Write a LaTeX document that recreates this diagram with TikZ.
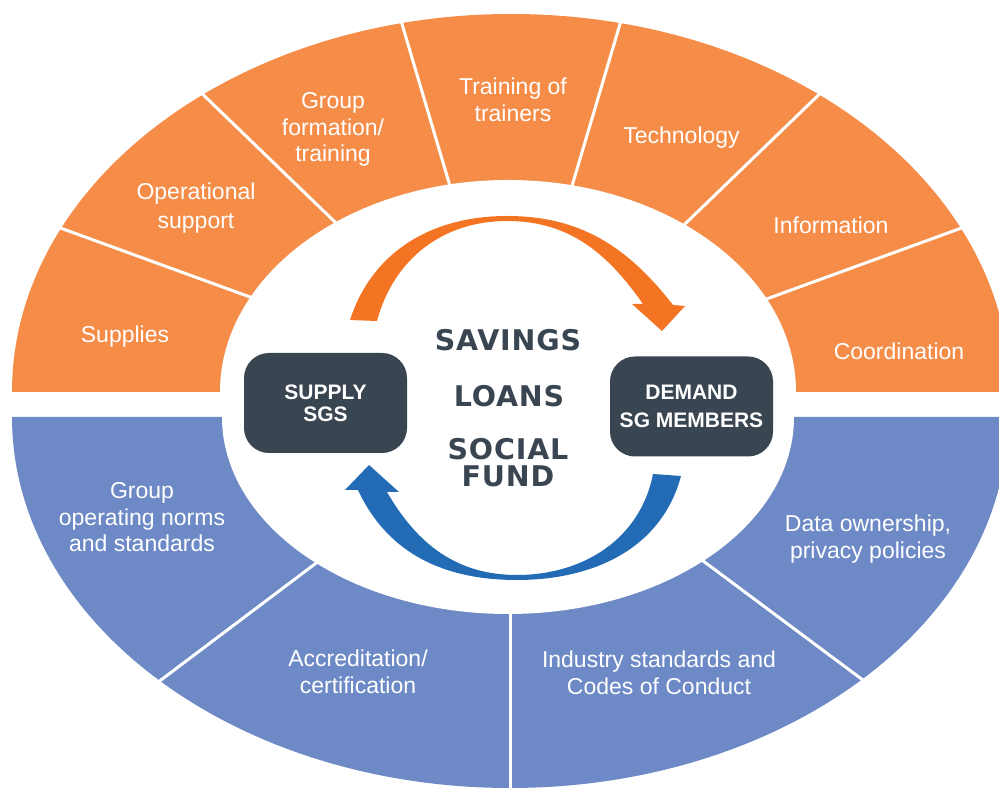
\documentclass[tikz,border=0pt]{standalone}
\usepackage{fontspec}
\setmainfont{Liberation Sans}
\newfontfamily\corefont{DejaVu Sans}[LetterSpace=3]
\usepackage{tikz}
\usepackage{xcolor}
\definecolor{segmentOrange}{HTML}{F58D49}
\definecolor{arrowOrange}{HTML}{F37422}
\definecolor{segmentBlue}{HTML}{6D8AC6}
\definecolor{arrowBlue}{HTML}{236BB5}
\definecolor{slateGray}{HTML}{3A4552}

\begin{document}
\begin{tikzpicture}[x=1pt, y=1pt,
  lbl/.style={text=white, align=center, anchor=base, inner sep=0pt, font=\fontsize{23}{26.5}\selectfont},
  core/.style={text=slateGray, align=center, anchor=base, inner sep=0pt, font=\corefont\bfseries\fontsize{28.5}{27}\selectfont},
  box/.style={fill=slateGray, text=white, rounded corners=25pt, align=center, minimum width=163pt, minimum height=100pt, inner sep=0pt, font=\bfseries\fontsize{21}{22}\selectfont}]
 	\useasboundingbox (0,0) rectangle (999,789);
 	\fill[segmentOrange] (12,397) arc[start angle=180, end angle=0, x radius=499, y radius=378] -- cycle;
 	\fill[segmentBlue] (12,372) arc[start angle=180, end angle=360, x radius=498, y radius=371] -- cycle;
 	\foreach \a in {160,136,106.5,73.5,44,20} \draw[white, line width=3pt] (511,397) -- ++(\a:600);
 	\foreach \a in {-143,-90,-36.7} \draw[white, line width=3pt] (510,372) -- ++(\a:600);
 	\fill[white] (220,397) arc[start angle=180, end angle=0, x radius=288, y radius=212] -- (794,372) arc[start angle=0, end angle=-180, x radius=286, y radius=197] -- cycle;
 	\fill[arrowOrange] (350,469) to[out=72,in=180] (507,573) to[out=0,in=128] (673,484) -- (685,483) -- (662,458) -- (632,485) -- (643,485) to[out=125,in=0] (507,568) to[out=180,in=75] (377,468) -- cycle;
 	\fill[arrowBlue] (681,313) to[out=-105,in=0] (517,209) to[out=180,in=-65] (358,299) -- (345,299) -- (369,324) -- (399,297) -- (387,297) to[out=-60,in=180] (517,214) to[out=0,in=-101] (653,315) -- cycle;
 	\node[box] (supply) at (325.5,386) {SUPPLY\\SGS};
 	\node[box, font=\bfseries\fontsize{21}{28}\selectfont] (demand) at (691.5,382.5) {DEMAND\\SG MEMBERS};
 	\node[core] (savings) at (508,438) {SAVINGS};
 	\node[core] (loans) at (509,382) {LOANS};
 	\node[core] (fund) at (508,302) {SOCIAL\\FUND};
 	\node[lbl] (supplies) at (125,446) {Supplies};
 	\node[lbl, font=\fontsize{23}{29}\selectfont] (operational) at (196,560) {Operational\\support};
 	\node[lbl] (formation) at (333,627) {Group\\formation/\\training};
 	\node[lbl] (trainers) at (513,667.5) {Training of\\trainers};
 	\node[lbl] (technology) at (681.5,645) {Technology};
 	\node[lbl] (information) at (831,555) {Information};
 	\node[lbl] (coordination) at (899,429) {Coordination};
 	\node[lbl] (norms) at (142,237) {Group\\operating norms\\and standards};
 	\node[lbl] (accreditation) at (358,95.5) {Accreditation/\\certification};
 	\node[lbl] (conduct) at (659,94.5) {Industry standards and\\Codes of Conduct};
 	\node[lbl] (privacy) at (868,230.5) {Data ownership,\\privacy policies};
\end{tikzpicture}
\end{document}
